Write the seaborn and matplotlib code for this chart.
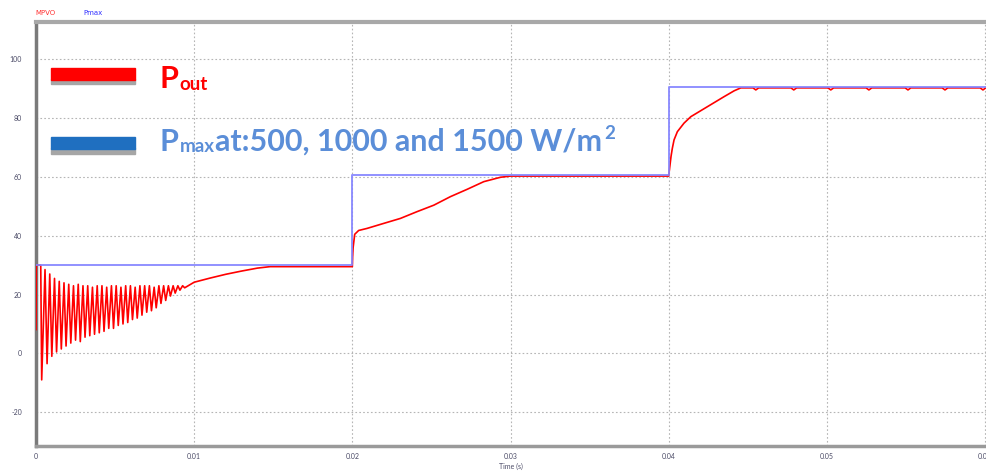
import numpy as np
import pandas as pd
import matplotlib
matplotlib.use("Agg")
import matplotlib.pyplot as plt
import seaborn as sns
from matplotlib.patches import Rectangle

# ---- data (time in ms, power in W) ----
pout_ms = [0.00, 0.02, 0.30, 0.36, 0.57, 0.70, 0.87, 1.00, 1.17, 1.30,
           1.47, 1.60, 1.77, 1.90, 2.07, 2.20, 2.37, 2.50, 2.67, 2.80,
           2.97, 3.10, 3.27, 3.40, 3.57, 3.70, 3.87, 4.00, 4.17, 4.30,
           4.47, 4.60, 4.77, 4.90, 5.07, 5.20, 5.37, 5.50, 5.67, 5.80,
           5.97, 6.10, 6.27, 6.40, 6.57, 6.70, 6.87, 7.00, 7.17, 7.30,
           7.47, 7.60, 7.77, 7.90, 8.07, 8.20, 8.37, 8.50, 8.67, 8.80,
           8.97, 9.10, 9.27, 9.40,
           10.0, 11.0, 12.0, 13.0, 14.0, 14.8, 20.0,
           20.02, 20.05, 20.15, 20.40, 20.93, 21.98, 23.04, 24.09, 25.15,
           26.20, 27.26, 28.31, 29.37, 30.0, 40.0,
           40.15, 40.23, 40.34, 40.55, 40.97, 41.40, 42.45, 43.50, 44.14, 44.56,
           45.33, 45.51, 45.69, 47.73, 47.91, 48.09, 50.07, 50.25, 50.43,
           52.48, 52.66, 52.84, 54.95, 55.13, 55.31, 57.29, 57.47, 57.65,
           59.69, 59.87, 60.05, 60.06]
pout_w = [8.0, 30.0, 30.0, -9.0, 28.5, -3.5, 27.0, -1.0, 25.5, 0.5,
          24.5, 1.5, 24.0, 2.5, 23.5, 3.5, 23.0, 4.5, 23.5, 4.0,
          23.0, 5.5, 23.0, 6.0, 22.5, 6.5, 23.0, 7.0, 23.0, 7.5,
          22.5, 8.5, 23.0, 8.5, 23.0, 9.5, 22.5, 10.0, 23.0, 10.5,
          23.0, 11.5, 22.5, 12.0, 23.0, 13.0, 23.0, 14.0, 23.0, 14.5,
          22.5, 15.5, 23.0, 17.0, 23.0, 18.0, 23.0, 19.5, 23.0, 20.5,
          23.0, 21.5, 23.0, 22.3,
          24.2, 25.6, 26.9, 28.0, 29.0, 29.5, 29.5,
          33.0, 36.0, 40.5, 41.8, 42.5, 44.2, 45.9, 48.2, 50.4,
          53.3, 55.8, 58.4, 59.9, 60.3, 60.3,
          67.0, 69.7, 72.6, 75.4, 78.3, 80.5, 83.9, 87.3, 89.3, 90.3,
          90.3, 89.6, 90.3, 90.3, 89.6, 90.3, 90.3, 89.6, 90.3,
          90.3, 89.6, 90.3, 90.3, 89.6, 90.3, 90.3, 89.6, 90.3,
          90.3, 89.6, 90.3, 90.3]

pmax_ms = [0.0, 20.0, 20.0, 40.0, 40.0, 60.06]
pmax_w = [30.0, 30.0, 60.5, 60.5, 90.5, 90.5]

x_ticks = [0.0, 0.01, 0.02, 0.03, 0.04, 0.05, 0.06]
x_tick_labels = ["0", "0.01", "0.02", "0.03", "0.04", "0.05", "0.06"]
y_ticks = [-20, 0, 20, 40, 60, 80, 100]
y_tick_labels = ["-20", "0", "20", "40", "60", "80", "100"]

pout = pd.DataFrame({"t": np.array(pout_ms) / 1000.0, "p": pout_w})
pmax = pd.DataFrame({"t": np.array(pmax_ms) / 1000.0, "p": pmax_w})

# ---- figure ----
sns.set_style("white")
plt.rcParams["font.family"] = ["Lato", "DejaVu Sans"]

W, H = 986, 472
fig = plt.figure(figsize=(W / 100, H / 100), dpi=100)
ax = fig.add_axes([36 / W, 1 - 446 / H, 1 - 36 / W, (446 - 22) / H])

sns.lineplot(data=pout, x="t", y="p", ax=ax, color="#ff0000", lw=1.2,
             estimator=None, sort=False, zorder=3)
sns.lineplot(data=pmax, x="t", y="p", ax=ax, color="#8585ff", lw=1.4,
             estimator=None, sort=False, zorder=4, alpha=0.9)

ax.set_xlim(0, 0.060063)
ax.set_ylim(-31.5, 112.7)
ax.set_xticks(x_ticks)
ax.set_xticklabels(x_tick_labels)
ax.set_yticks(y_ticks)
ax.set_yticklabels(y_tick_labels)
ax.tick_params(axis="both", length=0, labelsize=5, labelcolor="#4a4a66")
ax.tick_params(axis="x", pad=5)
ax.tick_params(axis="y", pad=10)
ax.set_xlabel("Time (s)", fontsize=5, color="#4a4a66", labelpad=2)
ax.set_ylabel("")

ax.grid(True, color="#b5b5b5", lw=0.8, linestyle=(0, (1.5, 2.0)))
ax.set_axisbelow(True)

ax.spines["left"].set_color("#7a7a7a")
ax.spines["left"].set_linewidth(2.5)
ax.spines["bottom"].set_color("#9a9a9a")
ax.spines["bottom"].set_linewidth(2.5)
ax.spines["top"].set_color("#a8a8a8")
ax.spines["top"].set_linewidth(3)
ax.spines["right"].set_visible(False)

# trace names above the plot
fig.text(35 / W, 1 - 13 / H, "MPVO", color="#ff3030", fontsize=5, va="center",
         family=["DejaVu Sans"])
fig.text(83 / W, 1 - 13 / H, "Pmax", color="#3030ff", fontsize=5, va="center",
         family=["DejaVu Sans"])

# legend drawn as coloured bars with large labels
def bar(x0, x1, y0, y1, color):
    fig.patches.append(Rectangle((x0 / W, 1 - y1 / H), (x1 - x0) / W, (y1 - y0) / H,
                                 transform=fig.transFigure, color=color, zorder=5))

bar(51, 135, 79, 84, "#a6a6a6")
bar(51, 135, 68, 80, "#ff0000")
bar(51, 135, 148, 154, "#a6a6a6")
bar(51, 135, 137, 149, "#1f6fc0")

red = "#ff0000"
blue = "#5b8ed8"
fig.canvas.draw()
rend = fig.canvas.get_renderer()

def put(x, y, s, size, color):
    t = fig.text(x / W, 1 - y / H, s, fontsize=size, color=color,
                 fontweight="bold", va="baseline", ha="left")
    bb = t.get_window_extent(renderer=rend)
    return bb.x1

xe = put(160, 88, "P", 22, red)
put(xe + 1, 90, "out", 13.5, red)

xe = put(160, 151, "P", 22, blue)
xe = put(xe + 1, 152, "max", 13.5, blue)
xe = put(xe, 151, "at:500, 1000 and 1500 W/m", 22, blue)
put(xe + 2, 139, "2", 13.5, blue)

fig.savefig("out.png", dpi=100)
